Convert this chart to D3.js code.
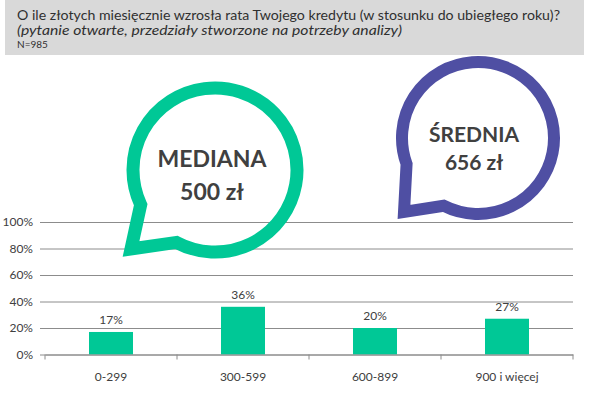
<!DOCTYPE html>
<html><head><meta charset="utf-8">
<script src="https://cdn.jsdelivr.net/npm/d3@7"></script>
<style>
body{margin:0;background:#fff;}
svg{display:block;font-family:Lato,"Open Sans",sans-serif;}
</style></head>
<body>
<svg id="c" width="589" height="396"></svg>
<script>
const categories = ["0-299", "300-599", "600-899", "900 i więcej"];
const values = [17, 36, 20, 27];
const yTicks = [0, 20, 40, 60, 80, 100];
const titleLines = [
  "O ile złotych miesięcznie wzrosła rata Twojego kredytu (w stosunku do ubiegłego roku)?",
  "(pytanie otwarte, przedziały stworzone na potrzeby analizy)",
  "N=985"
];
const bubbles = [
  {label: "MEDIANA", value: "500 zł"},
  {label: "ŚREDNIA", value: "656 zł"}
];

const svg = d3.select("#c");
const textCol = "#404040";
const gridCol = "#8c8c8c";
const green = "#00c896";
const purple = "#4f4fa3";

// header
svg.append("rect").attr("x", 5).attr("y", 0).attr("width", 579).attr("height", 55).attr("fill", "#d9d9d9");
svg.append("text").attr("x", 17).attr("y", 20).attr("font-size", 13).attr("fill", "#303030")
  .attr("textLength", 543).attr("lengthAdjust", "spacingAndGlyphs").text(titleLines[0]);
svg.append("text").attr("x", 17).attr("y", 35).attr("font-size", 13).attr("font-style", "italic").attr("fill", "#303030")
  .attr("textLength", 385).attr("lengthAdjust", "spacingAndGlyphs").text(titleLines[1]);
svg.append("text").attr("x", 17).attr("y", 48).attr("font-size", 10).attr("fill", "#303030").text(titleLines[2]);

// scales
const x = d3.scaleBand().domain(categories).range([45, 573]).padding(0);
const y = d3.scaleLinear().domain([0, 100]).range([354.5, 222]);

// y grid + axis
const yAx = svg.append("g").attr("transform", "translate(45,0)")
  .call(d3.axisLeft(y).tickValues(yTicks).tickFormat(d => d + "%").tickSize(-(573 - 45)).tickPadding(12));
yAx.select(".domain").remove();
yAx.selectAll(".tick line").attr("x1", -5).attr("stroke", gridCol);
yAx.selectAll(".tick text").attr("font-size", 12).attr("fill", textCol).attr("font-family", "Lato,'Open Sans',sans-serif");

// bubbles
function bubblePath(cx, cy, r, a1, a2, tip) {
  const p = a => [cx + r * Math.cos(a * Math.PI / 180), cy + r * Math.sin(a * Math.PI / 180)];
  const s = p(a1), e = p(a2);
  return `M${s[0]},${s[1]} A${r},${r} 0 1 1 ${e[0]},${e[1]} L${tip[0]},${tip[1]} Z`;
}
const bGeo = [
  {cx: 215, cy: 170, r: 82, a1: 155, a2: 118, tip: [131, 249], sw: 13, col: green, fs: 23, ty1: 167, ty2: 200, tx: 212},
  {cx: 478, cy: 138, r: 76, a1: 160, a2: 117, tip: [404, 212], sw: 12, col: purple, fs: 21, ty1: 142, ty2: 170, tx: 474}
];
bubbles.forEach((b, i) => {
  const g = bGeo[i];
  svg.append("path").attr("d", bubblePath(g.cx, g.cy, g.r, g.a1, g.a2, g.tip))
    .attr("fill", "none").attr("stroke", g.col).attr("stroke-width", g.sw).attr("stroke-linejoin", "miter").attr("stroke-miterlimit", 10);
  svg.append("text").attr("x", g.tx).attr("y", g.ty1).attr("text-anchor", "middle").attr("font-size", g.fs)
    .attr("font-weight", "bold").attr("fill", textCol).text(b.label);
  svg.append("text").attr("x", g.tx).attr("y", g.ty2).attr("text-anchor", "middle").attr("font-size", g.fs)
    .attr("font-weight", "bold").attr("fill", textCol).text(b.value);
});

// bars
const bw = x.bandwidth() / 3;
svg.append("g").selectAll("rect").data(values).join("rect")
  .attr("x", (d, i) => x(categories[i]) + x.bandwidth() / 2 - bw / 2)
  .attr("y", d => y(d))
  .attr("width", bw)
  .attr("height", d => y(0) - y(d))
  .attr("fill", green);
svg.append("g").selectAll("text").data(values).join("text")
  .attr("x", (d, i) => x(categories[i]) + x.bandwidth() / 2)
  .attr("y", d => y(d) - 8)
  .attr("text-anchor", "middle").attr("font-size", 12).attr("fill", textCol)
  .text(d => d + "%");

// x axis
const xAx = svg.append("g").attr("transform", `translate(0,${y(0)})`)
  .call(d3.axisBottom(x).tickSize(0).tickPadding(18));
xAx.select(".domain").attr("stroke", gridCol);
xAx.selectAll(".tick text").attr("font-size", 12).attr("fill", textCol).attr("font-family", "Lato,'Open Sans',sans-serif");
const bounds = categories.map(c => x(c)).concat([x.range()[1]]);
svg.append("g").selectAll("line").data(bounds).join("line")
  .attr("x1", d => d).attr("x2", d => d).attr("y1", y(0)).attr("y2", y(0) + 5)
  .attr("stroke", gridCol);
</script>
</body></html>
